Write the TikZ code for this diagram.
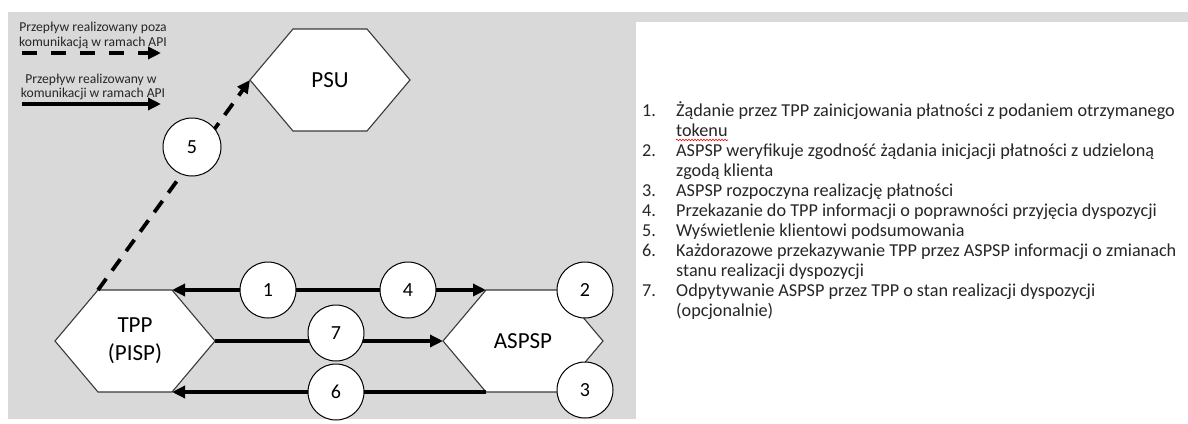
\documentclass[tikz,border=0pt]{standalone}
\usepackage{fontspec}
\setmainfont{Carlito}
\usetikzlibrary{calc,arrows.meta,decorations.pathmorphing}
\definecolor{panelgray}{HTML}{D9D9D9}
\definecolor{edgegray}{HTML}{3A3A3A}
\definecolor{textgray}{HTML}{262626}
\tikzset{
  hexbox/.style={minimum width=160pt, minimum height=102pt, inner sep=0pt, outer sep=0pt},
  hexlabel/.style={align=center, inner sep=0pt, font=\fontsize{23}{28}\selectfont},
  hexline/.style={draw=edgegray, line width=1.1pt, fill=white, line join=miter},
  stepcircle/.style={circle, draw=black, line width=1pt, fill=white, minimum size=56pt,
    inner sep=0pt, font=\fontsize{20}{20}\selectfont},
  flow/.style={line width=3.8pt, -{Triangle[length=13pt,width=12pt]}},
  dashflow/.style={flow, dash pattern=on 14pt off 10pt},
  legendtext/.style={anchor=base, inner sep=0pt, text=textgray, font=\fontsize{13.6}{15}\selectfont},
  listtext/.style={anchor=base west, inner sep=0pt, text=textgray, font=\fontsize{18.2}{20}\selectfont},
}
\begin{document}
\begin{tikzpicture}[x=1pt, y=-1pt]
\useasboundingbox (0,0) rectangle (1188,423);

% panels
\fill[panelgray] (8,12) rectangle (1188,419);
\fill[white] (636,22) rectangle (1188,423);

% hexagon boxes (outline drawn from the box corners)
\path node[hexbox] (psu) at (330,80) {};
\path node[hexbox] (tpp) at (135,341) {};
\path node[hexbox] (aspsp) at (523,341) {};
\foreach \h in {psu,tpp,aspsp}{
  \coordinate (\h-nw) at ($(\h.north west)+(43,0)$);
  \coordinate (\h-ne) at ($(\h.north east)+(-43,0)$);
  \coordinate (\h-sw) at ($(\h.south west)+(43,0)$);
  \coordinate (\h-se) at ($(\h.south east)+(-43,0)$);
  \draw[hexline] (\h.west) -- (\h-nw) -- (\h-ne) -- (\h.east) -- (\h-se) -- (\h-sw) -- cycle;
}
\node[hexlabel] (psu-label) at (psu.center) {PSU};
\node[hexlabel] (tpp-label) at (tpp.center) {TPP\\(PISP)};
\node[hexlabel] (aspsp-label) at (aspsp.center) {ASPSP};

% flows between the parties
\draw[flow, {Triangle[length=13pt,width=12pt]}-{Triangle[length=13pt,width=12pt]}] (tpp-ne) -- (aspsp-nw);
\draw[flow] (tpp.east) -- (aspsp.west);
\draw[flow] (aspsp-sw) -- (tpp-se);
\draw[dashflow] (tpp-nw) -- (psu.west);

% step markers
\node[stepcircle] (c1) at (268,290) {1};
\node[stepcircle] (c4) at (408,290) {4};
\node[stepcircle] (c2) at (585,290) {2};
\node[stepcircle] (c3) at (585,390) {3};
\node[stepcircle] (c7) at (336,333) {7};
\node[stepcircle] (c6) at (336,392) {6};
\node[stepcircle, minimum height=58pt] (c5) at (192,147) {5};

% legend
\node[legendtext] (lg1a) at (93,31) {Przepływ realizowany poza};
\node[legendtext] (lg1b) at (93,46) {komunikacją w ramach API};
\coordinate (lg1s) at (22,53);
\coordinate (lg1e) at (161,53);
\draw[dashflow, dash pattern=on 15pt off 14pt] (lg1s) -- (lg1e);
\node[legendtext] (lg2a) at (91,83) {Przepływ realizowany w};
\node[legendtext] (lg2b) at (93,97) {komunikacji w ramach API};
\coordinate (lg2s) at (22,104);
\coordinate (lg2e) at (161,104);
\draw[flow] (lg2s) -- (lg2e);

% numbered description
\node[listtext] (n1) at (642,116) {1.};
\node[listtext] (t1a) at (676,116) {Żądanie przez TPP zainicjowania płatności z podaniem otrzymanego};
\node[listtext] (t1b) at (676,136) {tokenu};
\node[listtext] (n2) at (642,156) {2.};
\node[listtext] (t2a) at (676,156) {ASPSP weryfikuje zgodność żądania inicjacji płatności z udzieloną};
\node[listtext] (t2b) at (676,176) {zgodą klienta};
\node[listtext] (n3) at (642,196) {3.};
\node[listtext] (t3) at (676,196) {ASPSP rozpoczyna realizację płatności};
\node[listtext] (n4) at (642,216) {4.};
\node[listtext] (t4) at (676,216) {Przekazanie do TPP informacji o poprawności przyjęcia dyspozycji};
\node[listtext] (n5) at (642,236) {5.};
\node[listtext] (t5) at (676,236) {Wyświetlenie klientowi podsumowania};
\node[listtext] (n6) at (642,256) {6.};
\node[listtext] (t6a) at (676,256) {Każdorazowe przekazywanie TPP przez ASPSP informacji o zmianach};
\node[listtext] (t6b) at (676,276) {stanu realizacji dyspozycji};
\node[listtext] (n7) at (642,296) {7.};
\node[listtext] (t7a) at (676,296) {Odpytywanie ASPSP przez TPP o stan realizacji dyspozycji};
\node[listtext] (t7b) at (676,316) {(opcjonalnie)};

% spelling underline
\draw[red, line width=0.6pt, decorate, decoration={snake, amplitude=0.8pt, segment length=3pt}]
  ($(t1b.base west)+(0,4)$) -- ($(t1b.base east)+(0,4)$);
\end{tikzpicture}
\end{document}
